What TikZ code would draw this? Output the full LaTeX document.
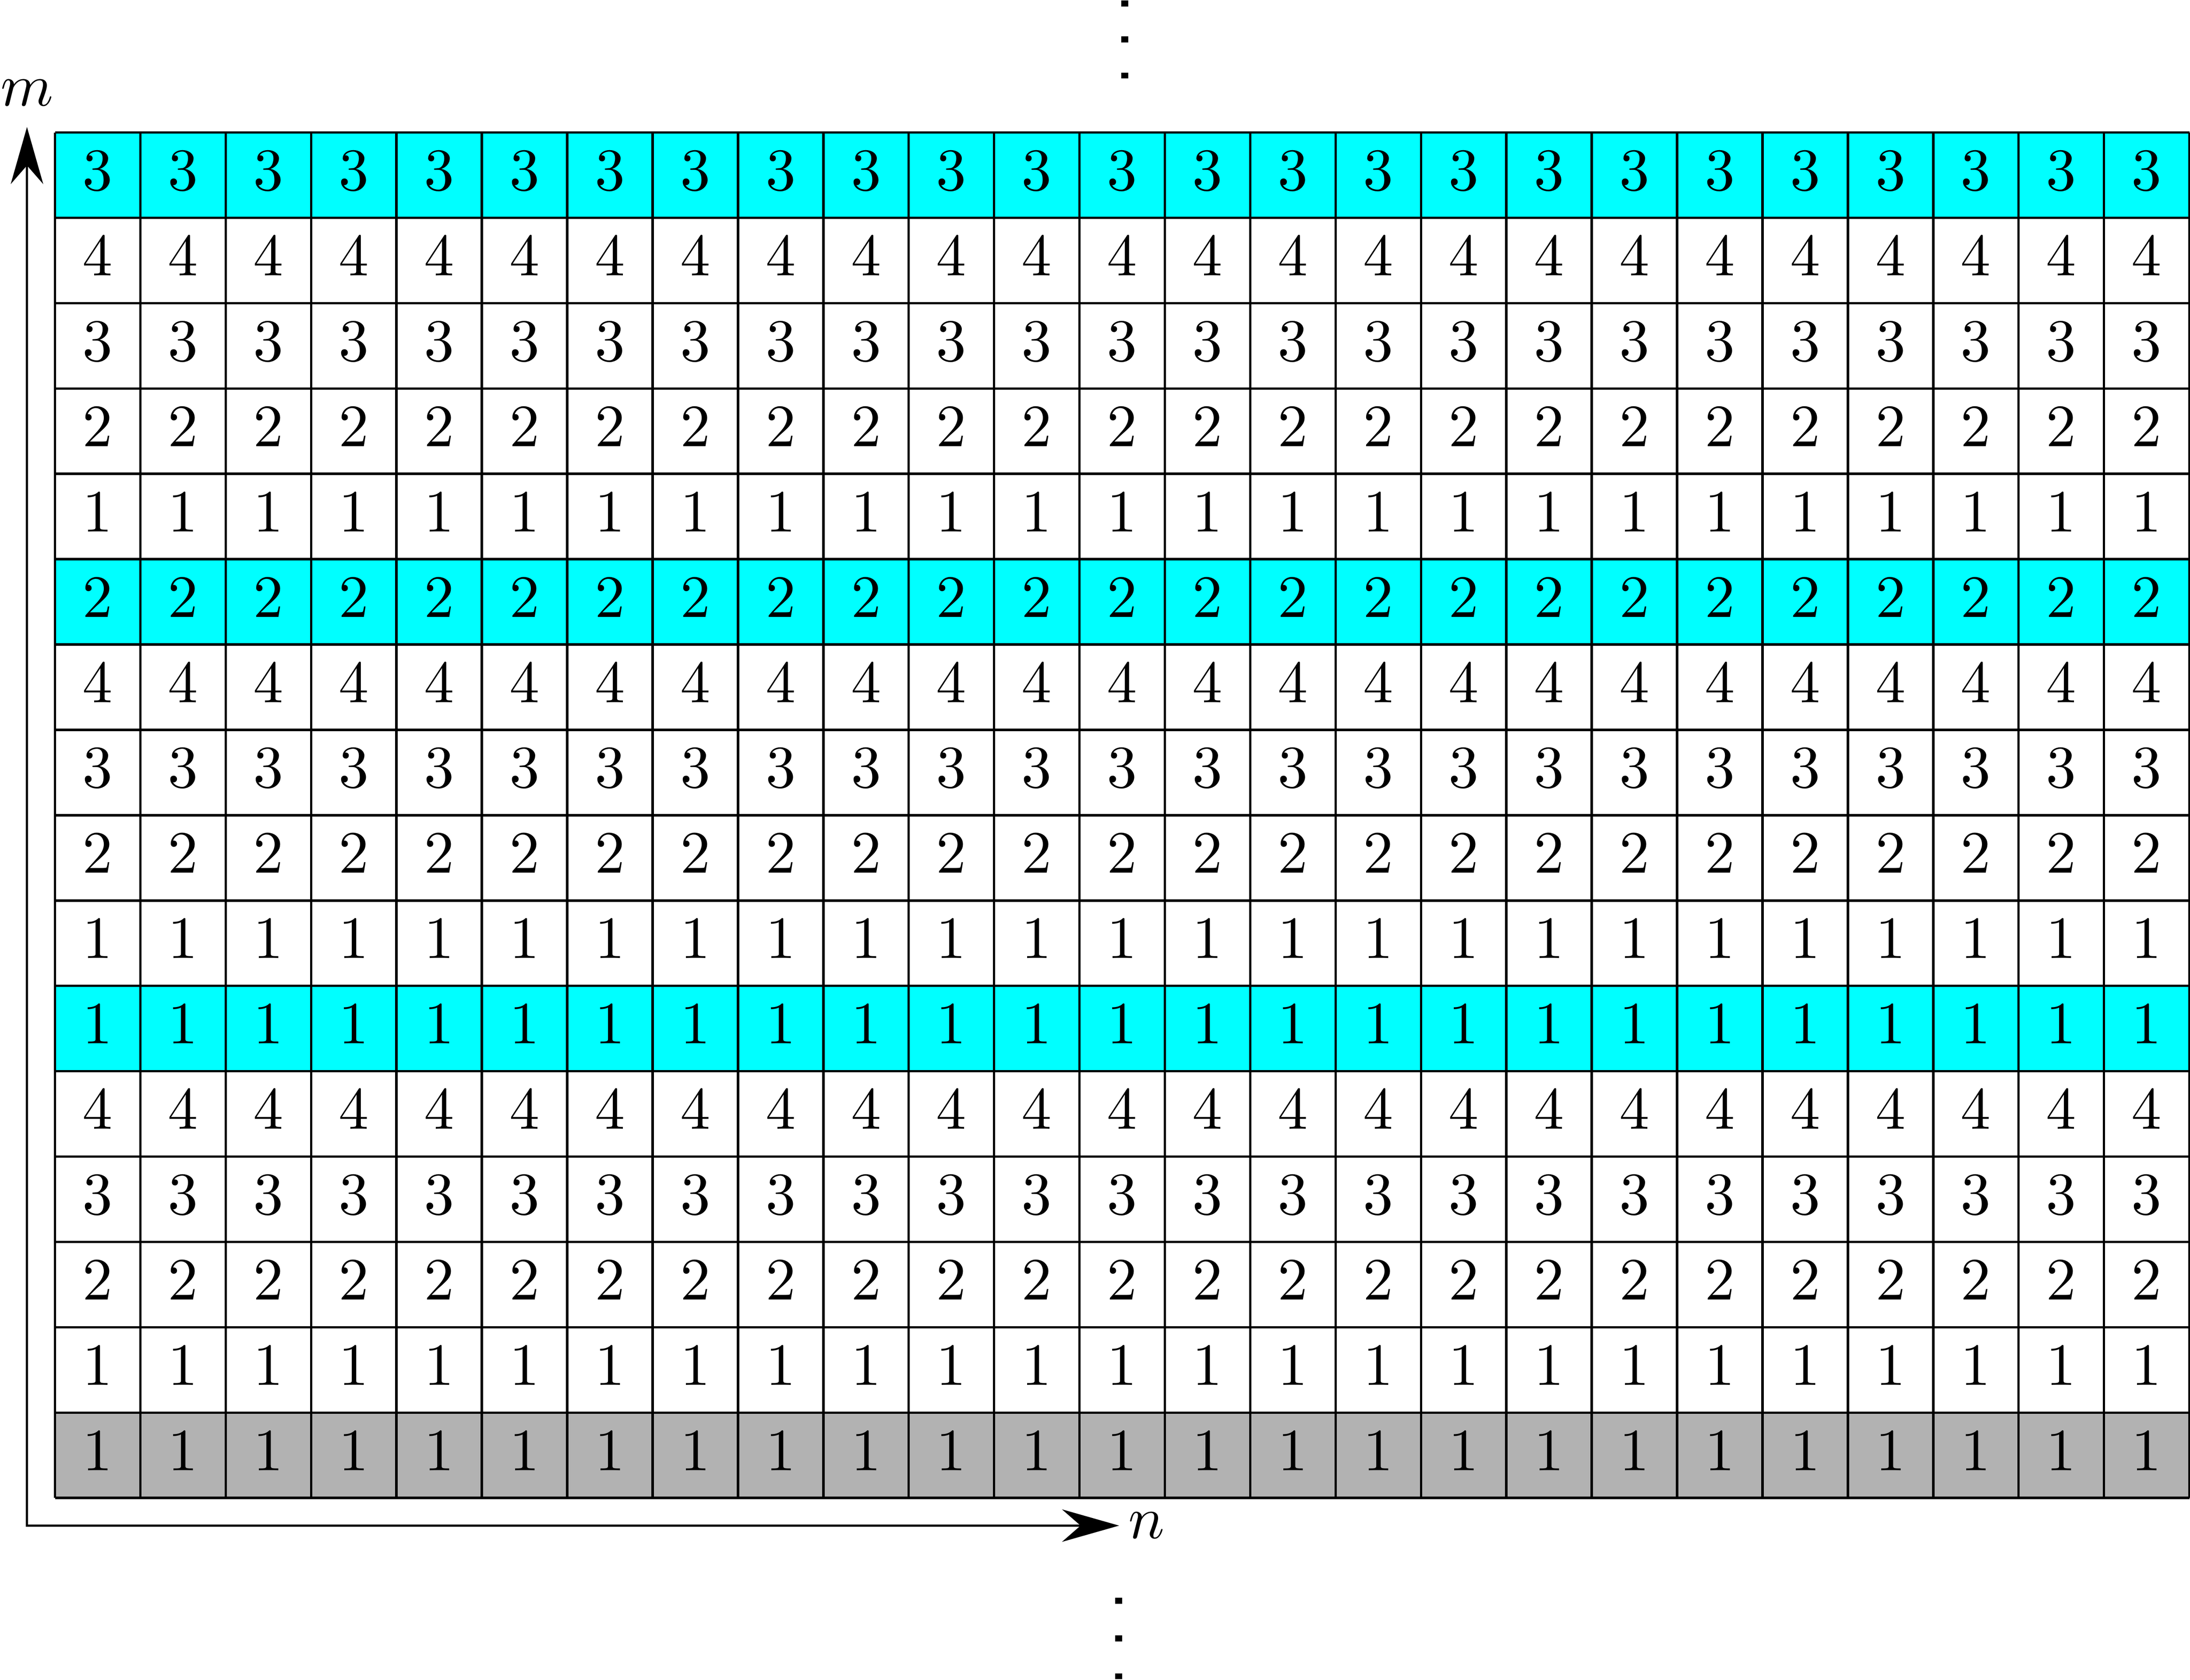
\documentclass[tikz,border=0pt]{standalone}
\usetikzlibrary{arrows.meta}
\definecolor{rowcyan}{RGB}{0,255,255}
\tikzset{
  >={Stealth[length=9.5pt,width=5.4pt]},
  cellnum/.style={yshift=0.7pt},
  topdots/.style={line width=1.2pt,dash pattern=on 1pt off 5pt},
  botdots/.style={line width=1.2pt,dash pattern=on 1pt off 5.3pt}
}
\begin{document}
\begin{tikzpicture}
\useasboundingbox (-0.322,-1.066) rectangle (12.504,8.776);
\fill[black!30] (0,0) rectangle (12.5,0.5); % edit here for the grey row
\foreach \y in {2.5,5,7.5} % edit here for the cyan rows
\fill[rowcyan] (0,\y) rectangle (12.5,\y+0.5);
\draw[step=0.5] (0,0) grid (12.5,8);
\foreach \v [count=\r from 0] in {1,1,2,3,4,1,1,2,3,4,2,1,2,3,4,3} % edit here for the numbers, bottom row first
\foreach \c in {0,...,24}
\node[cellnum] (c-\r-\c) at (\c*0.5+0.25,\r*0.5+0.25) {$\v$};
% axes
\coordinate (mtip) at (-0.164,8.032);
\coordinate (corner) at (-0.164,-0.162);
\coordinate (ntip) at (6.232,-0.162);
\draw[<->] (mtip) node[above] (mlab) {$m$} -- (corner) -- (ntip) node[right,xshift=-2pt] (nlab) {$n$};
% dots above and below
\coordinate (uptop) at (6.266,8.316);
\coordinate (upend) at (6.266,8.8);
\draw[topdots] (uptop) -- (upend);
\coordinate (downtop) at (6.23,-0.584);
\coordinate (downend) at (6.23,-1.1);
\draw[botdots] (downtop) -- (downend);
\end{tikzpicture}
\end{document}
